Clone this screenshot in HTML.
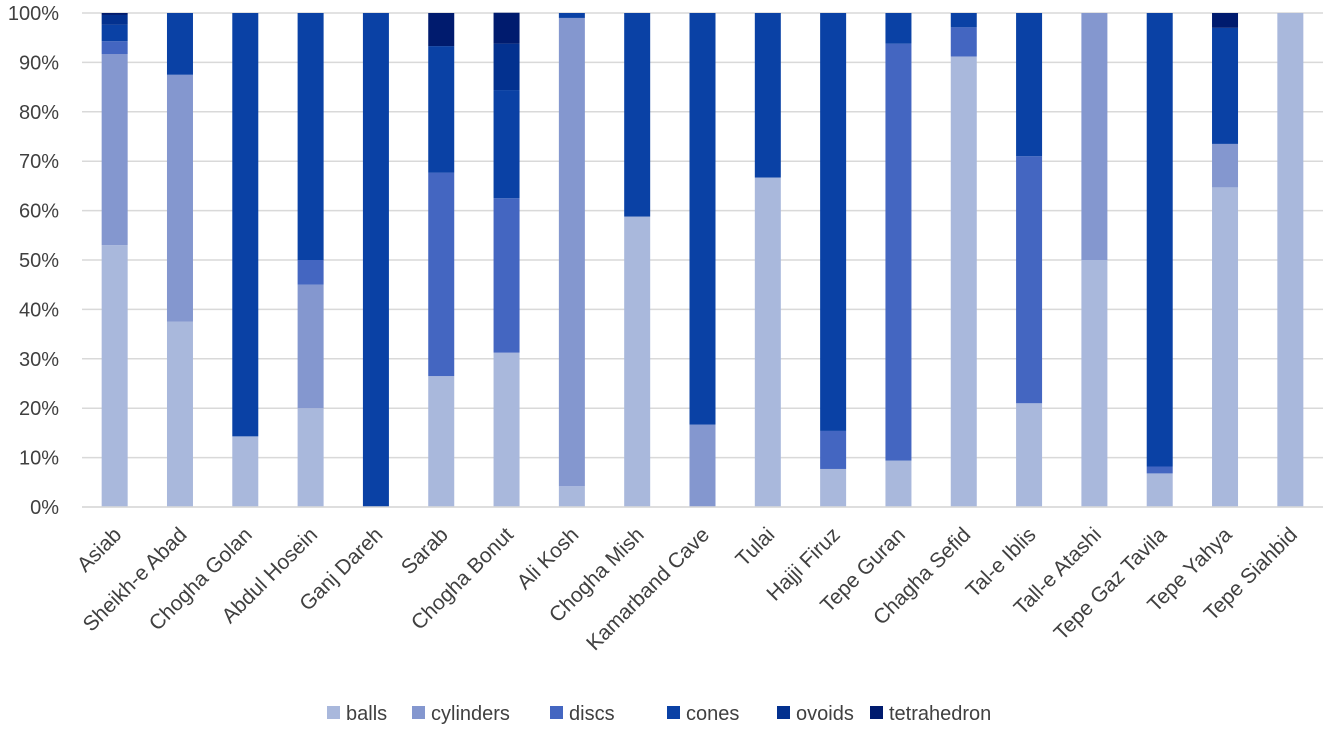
<!DOCTYPE html>
<html><head><meta charset="utf-8"><style>
body{margin:0;background:#fff;width:1328px;height:729px;overflow:hidden;font-family:"Liberation Sans",sans-serif}
</style></head><body>
<svg id="chart" width="1328" height="729" xmlns="http://www.w3.org/2000/svg"></svg>
<script>
const categories=["Asiab","Sheikh-e Abad","Chogha Golan","Abdul Hosein","Ganj Dareh","Sarab","Chogha Bonut","Ali Kosh","Chogha Mish","Kamarband Cave","Tulai","Hajji Firuz","Tepe Guran","Chagha Sefid","Tal-e Iblis","Tall-e Atashi","Tepe Gaz Tavila","Tepe Yahya","Tepe Siahbid"];
const seriesNames=["balls","cylinders","discs","cones","ovoids","tetrahedron"];
const balls=[53,37.5,14.3,20,0,26.5,31.25,4.2,58.8,0,66.7,7.7,9.4,91.2,21,50,6.8,64.7,100];
const cylinders=[38.7,50,0,25,0,0,0,94.8,0,16.7,0,0,0,0,0,50,0,8.8,0];
const discs=[2.6,0,0,5,0,41.2,31.25,0,0,0,0,7.7,84.4,5.9,50,0,1.4,0,0];
const cones=[3.3,12.5,85.7,50,100,25.6,21.9,1,41.2,83.3,33.3,84.6,6.2,2.9,29,0,91.8,23.5,0];
const ovoids=[2,0,0,0,0,0,9.4,0,0,0,0,0,0,0,0,0,0,0,0];
const tetrahedron=[0.4,0,0,0,0,6.7,6.25,0,0,0,0,0,0,0,0,0,0,3,0];
const yTicks=["0%","10%","20%","30%","40%","50%","60%","70%","80%","90%","100%"];
const colors=["#A9B8DC","#8497CF","#4466C1","#0A41A5","#03318F","#001B6E"];
const series=[balls,cylinders,discs,cones,ovoids,tetrahedron];
const svg=document.getElementById('chart');const NS="http://www.w3.org/2000/svg";
const L=82,R=1323,T=13,B=507;
const y=v=>B-(v/100)*(B-T);
const step=(R-L)/categories.length;
const xc=i=>L+(i+0.5)*step;
function mk(t,a){const e=document.createElementNS(NS,t);for(const k in a)e.setAttribute(k,a[k]);svg.appendChild(e);return e;}
yTicks.forEach((t,i)=>{const v=i*10;
const g=mk('line',{x1:L,x2:R,y1:y(v),y2:y(v),stroke:'#d9d9d9','stroke-width':1.5});


const tx=mk('text',{x:59,y:y(v)+7,'text-anchor':'end','font-size':20,fill:'#404040'});tx.textContent=t;

});
categories.forEach((c,i)=>{let acc=0;
series.forEach((s,j)=>{const v=s[i];if(v>0){const r=mk('rect',{x:xc(i)-13,y:y(acc+v),width:26,height:y(acc)-y(acc+v),fill:colors[j]});

}acc+=v;});
const px=xc(i)+8,py=536;
const tx=mk('text',{x:px,y:py,'text-anchor':'end','font-size':21,fill:'#404040',transform:`rotate(-45 ${px} ${py})`});tx.textContent=c;

});
const ax=mk('line',{x1:L,x2:R,y1:B,y2:B,stroke:'#d9d9d9','stroke-width':1.5});


const lx=[327,412,550,667,777,870];
seriesNames.forEach((n,j)=>{const r=mk('rect',{x:lx[j],y:706,width:13,height:13,fill:colors[j]});


const t=mk('text',{x:lx[j]+19,y:720,'font-size':20,fill:'#404040'});t.textContent=n;

});
</script>
</body></html>
